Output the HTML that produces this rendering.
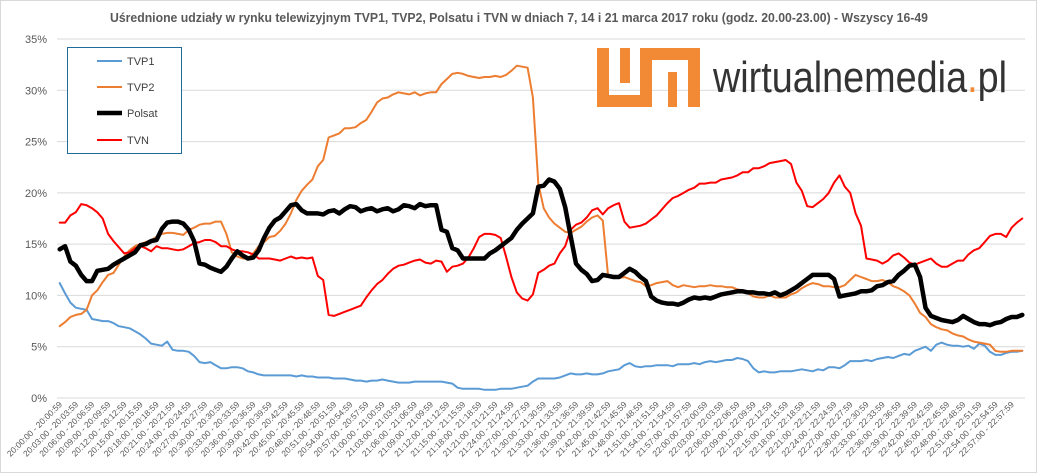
<!DOCTYPE html>
<html><head><meta charset="utf-8"><style>
html,body{margin:0;padding:0;background:#fff;}
svg{display:block;font-family:"Liberation Sans",sans-serif;}
</style></head><body>
<svg id="chart" width="1038" height="474" viewBox="0 0 1038 474">
<rect x="0.5" y="0.5" width="1036" height="472" fill="#fff" stroke="#d9d9d9"/>
<text x="110" y="22" font-size="12.5" font-weight="bold" fill="#595959" textLength="818" lengthAdjust="spacingAndGlyphs">Uśrednione udziały w rynku telewizyjnym TVP1, TVP2, Polsatu i TVN w dniach 7, 14 i 21 marca 2017 roku (godz. 20.00-23.00) - Wszyscy 16-49</text>
<g id="grid"></g>
<g id="yticks"></g>
<g id="xticks"></g>
<g id="series"></g>
<g fill="#f28a35">
<rect x="597" y="48" width="12" height="59"/>
<rect x="597" y="95" width="55" height="12"/>
<rect x="620" y="48" width="10" height="35"/>
<rect x="640" y="48" width="12" height="59"/>
<rect x="640" y="48" width="60" height="12"/>
<rect x="688" y="48" width="12" height="59"/>
<rect x="668" y="72" width="9" height="35"/>
<text x="713" y="92" font-size="44" fill="#333" textLength="294" lengthAdjust="spacingAndGlyphs">wirtualnemedia<tspan fill="#f28a35">.</tspan>pl</text>
</g>
<g>
<rect x="67.5" y="47.5" width="114" height="106" fill="#fff" stroke="#1f6b99"/>
<line x1="97" y1="61" x2="122" y2="61" stroke="#5b9bd5" stroke-width="2"/>
<text x="127" y="65" font-size="11" fill="#404040">TVP1</text>
<line x1="97" y1="87" x2="122" y2="87" stroke="#ed7d31" stroke-width="2"/>
<text x="127" y="91" font-size="11" fill="#404040">TVP2</text>
<line x1="97" y1="113" x2="122" y2="113" stroke="#000" stroke-width="4.5"/>
<text x="127" y="117" font-size="11" fill="#404040">Polsat</text>
<line x1="97" y1="140" x2="122" y2="140" stroke="#ff0000" stroke-width="2"/>
<text x="127" y="144" font-size="11" fill="#404040">TVN</text>
</g>
</svg>
<script>
const yTicks=[0,5,10,15,20,25,30,35];
const tvp1=[11.2,10.2,9.3,8.8,8.7,8.6,7.7,7.6,7.5,7.5,
7.3,7.0,6.9,6.8,6.5,6.2,5.8,5.3,5.2,5.1,
5.5,4.7,4.6,4.6,4.5,4.1,3.5,3.4,3.5,3.2,
2.9,2.9,3.0,3.0,2.9,2.6,2.5,2.3,2.2,2.2,
2.2,2.2,2.2,2.2,2.1,2.2,2.1,2.1,2.0,2.0,
2.0,1.9,1.9,1.9,1.8,1.7,1.7,1.6,1.7,1.7,
1.8,1.7,1.6,1.5,1.5,1.5,1.6,1.6,1.6,1.6,
1.6,1.6,1.5,1.4,1.0,0.9,0.9,0.9,0.9,0.8,
0.8,0.8,0.9,0.9,0.9,1.0,1.1,1.2,1.6,1.9,
1.9,1.9,1.9,2.0,2.2,2.4,2.3,2.3,2.4,2.3,
2.3,2.4,2.6,2.7,2.8,3.2,3.4,3.1,3.0,3.1,
3.1,3.2,3.2,3.2,3.1,3.3,3.3,3.3,3.4,3.3,
3.5,3.6,3.5,3.6,3.7,3.7,3.9,3.8,3.6,2.9,
2.5,2.6,2.5,2.5,2.6,2.6,2.6,2.7,2.8,2.7,
2.6,2.8,2.7,3.0,3.0,2.9,3.2,3.6,3.6,3.6,
3.7,3.6,3.8,3.9,4.0,3.9,4.1,4.3,4.2,4.6,
4.8,5.0,4.6,5.2,5.4,5.2,5.1,5.1,5.0,5.1,
4.8,5.3,5.1,4.5,4.2,4.2,4.4,4.5,4.5,4.6];
const tvp2=[7.0,7.4,7.9,8.1,8.2,8.6,10.0,10.5,11.3,12.0,
12.2,13.0,13.8,14.4,14.8,15.0,15.2,15.4,15.7,16.0,
16.1,16.1,16.0,15.9,16.4,16.6,16.9,17.0,17.0,17.2,
17.2,16.0,14.2,13.8,13.6,13.6,14.1,14.8,15.2,15.7,
15.8,16.3,17.0,18.0,19.3,20.2,20.8,21.3,22.6,23.2,
25.4,25.6,25.8,26.3,26.3,26.4,26.8,27.1,27.9,28.8,
29.2,29.3,29.6,29.8,29.7,29.6,29.8,29.5,29.7,29.8,
29.8,30.6,31.1,31.6,31.7,31.6,31.4,31.3,31.2,31.3,
31.3,31.4,31.3,31.5,31.9,32.4,32.3,32.2,29.3,20.9,
18.5,17.6,17.0,16.6,16.2,16.1,16.4,16.7,17.2,17.6,
17.8,17.3,11.8,11.8,11.7,11.8,11.6,11.4,11.3,10.9,
11.0,11.2,11.3,11.4,11.0,10.8,11.0,10.9,10.8,10.9,
10.9,11.0,10.9,10.9,10.8,10.8,10.6,10.5,10.2,9.9,
9.8,9.8,10.0,9.8,9.8,9.8,10.1,10.3,10.7,11.0,
11.2,11.1,10.9,10.9,10.8,10.8,11.0,11.5,12.0,11.8,
11.6,11.4,11.4,11.5,11.3,10.9,10.7,10.4,10.0,9.2,
8.3,7.9,7.2,6.9,6.7,6.6,6.3,6.1,6.0,5.7,
5.5,5.4,5.3,5.2,4.6,4.5,4.5,4.6,4.6,4.6];
const polsat=[14.5,14.8,13.3,12.9,12.0,11.4,11.4,12.4,12.5,12.6,
13.0,13.3,13.6,13.9,14.2,14.9,15.0,15.3,15.4,16.5,
17.1,17.2,17.2,17.0,16.4,15.3,13.1,13.0,12.7,12.5,
12.3,12.8,13.6,14.3,13.9,13.6,13.7,14.4,15.6,16.6,
17.3,17.6,18.2,18.8,18.9,18.3,18.0,18.0,18.0,17.9,
18.2,18.3,18.0,18.4,18.7,18.6,18.2,18.4,18.5,18.2,
18.4,18.5,18.2,18.4,18.8,18.7,18.5,18.9,18.7,18.8,
18.8,16.4,16.2,14.6,14.4,13.6,13.6,13.6,13.6,13.6,
14.1,14.4,14.8,15.2,15.6,16.4,17.0,17.5,18.0,20.6,
20.7,21.3,21.1,20.4,18.6,15.8,13.1,12.5,12.1,11.4,
11.5,12.0,11.9,11.8,11.8,12.2,12.6,12.3,11.8,11.4,
9.9,9.5,9.3,9.2,9.2,9.1,9.3,9.6,9.8,9.7,
9.8,9.7,9.9,10.1,10.2,10.3,10.4,10.4,10.3,10.3,
10.2,10.2,10.1,10.3,10.0,10.2,10.5,10.8,11.2,11.6,
12.0,12.0,12.0,12.0,11.6,9.9,10.0,10.1,10.2,10.4,
10.4,10.5,10.9,11.0,11.3,11.4,12.0,12.4,12.9,13.0,
11.8,8.8,8.0,7.8,7.6,7.5,7.4,7.6,8.0,7.7,
7.4,7.2,7.2,7.1,7.3,7.4,7.7,7.9,7.9,8.1];
const tvn=[17.1,17.1,17.8,18.1,18.9,18.8,18.5,18.1,17.5,16.0,
15.3,14.7,14.1,14.2,14.6,14.8,14.6,14.3,14.8,14.6,
14.6,14.5,14.4,14.5,14.8,15.1,15.2,15.4,15.4,15.2,
14.8,14.8,14.5,14.3,14.3,14.2,14.0,13.6,13.6,13.6,
13.5,13.4,13.6,13.8,13.6,13.7,13.6,13.7,11.9,11.5,
8.1,8.0,8.2,8.4,8.6,8.8,9.0,9.8,10.5,11.1,
11.5,12.1,12.6,12.9,13.0,13.2,13.4,13.5,13.2,13.1,
13.4,13.3,12.3,12.8,12.9,13.1,13.7,14.6,15.7,16.0,
16.0,15.9,15.6,13.8,11.8,10.3,9.7,9.5,10.1,12.2,
12.5,12.9,13.1,14.1,14.8,16.4,16.9,17.1,17.6,18.3,
18.5,17.9,18.5,18.8,19.0,17.2,16.6,16.7,16.8,17.0,
17.4,17.8,18.4,19.0,19.5,19.7,20.0,20.3,20.5,20.9,
20.9,21.0,21.0,21.3,21.4,21.5,21.7,22.0,22.0,22.4,
22.4,22.6,22.9,23.0,23.1,23.2,22.8,21.0,20.2,18.7,
18.6,19.0,19.4,20.0,21.0,21.7,20.6,20.0,18.0,16.8,
13.6,13.5,13.4,13.1,13.4,13.9,14.1,13.7,13.2,13.0,
13.2,13.4,13.6,13.1,12.8,12.8,13.1,13.4,13.4,14.0,
14.4,14.6,15.2,15.8,16.0,16.0,15.7,16.6,17.1,17.5];
const startMinute=20*60, nCats=180, labelStep=3;

const NS="http://www.w3.org/2000/svg";
const X0=57,X1=1025,Y0=398,Y35=39;
const catW=(X1-X0)/nCats;
function xs(i){return X0+(i+0.5)*catW;}
function ys(v){return Y0-(v/35)*(Y0-Y35);}
function mk(tag,attrs,parent){const e=document.createElementNS(NS,tag);for(const k in attrs)e.setAttribute(k,attrs[k]);parent.appendChild(e);return e;}
const grid=document.getElementById('grid'),yt=document.getElementById('yticks'),xt=document.getElementById('xticks'),ser=document.getElementById('series');
yTicks.forEach(t=>{
  const l=mk('line',{x1:X0,x2:X1,y1:ys(t),y2:ys(t),stroke:'#d9d9d9','stroke-width':1},grid);
  
  
  const tx=mk('text',{x:47,y:ys(t)+4,'font-size':11,fill:'#595959','text-anchor':'end'},yt);
  tx.textContent=t+'%';
  
  
});
function fmt(m){const h=Math.floor(m/60),mm=m%60;return h+':'+String(mm).padStart(2,'0');}
for(let i=0;i<nCats;i+=labelStep){
  const m=startMinute+i;
  const x=xs(i)+3,y=405;
  const tx=mk('text',{x:x,y:y,'font-size':8.5,fill:'#595959','text-anchor':'end',transform:'rotate(-45 '+x+' '+y+')'},xt);
  tx.textContent=fmt(m)+':00 - '+fmt(m)+':59';
  
  
}
function line(data,color,w,name){
  const d=data.map((v,i)=>(i?'L':'M')+xs(i).toFixed(1)+' '+ys(v).toFixed(1)).join(' ');
  const p=mk('path',{d:d,fill:'none',stroke:color,'stroke-width':w,'stroke-linejoin':'round','stroke-linecap':'round'},ser);
  
  
}
line(tvp1,'#5b9bd5',2,'line-tvp1');
line(tvp2,'#ed7d31',2,'line-tvp2');
line(tvn,'#ff0000',2,'line-tvn');
line(polsat,'#000000',4.5,'line-polsat');
</script>
</body></html>
